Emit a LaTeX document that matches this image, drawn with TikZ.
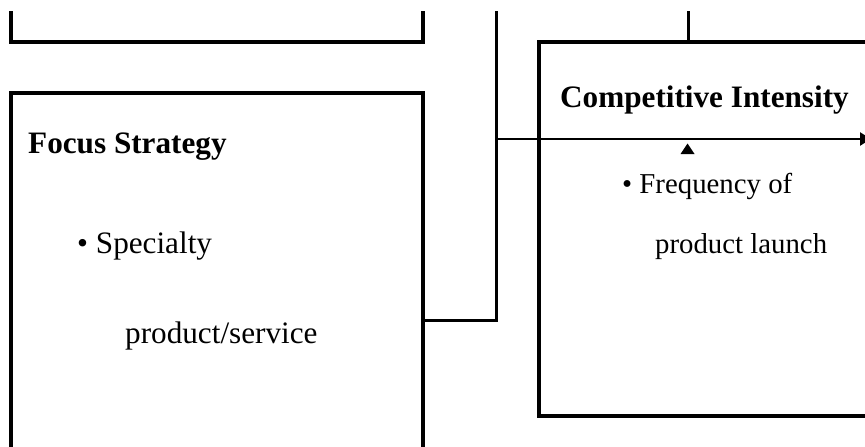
\documentclass[tikz,border=0pt]{standalone}
\usepackage{fontspec}
\setmainfont{Liberation Serif}
\usetikzlibrary{arrows.meta}
\tikzset{
  boxline/.style={draw=black, line width=3.2pt},
  conn/.style={draw=black, line width=3pt},
  arrline/.style={draw=black, line width=2.4pt},
  titletext/.style={anchor=base west, inner sep=0pt, font=\fontsize{31.2}{37}\selectfont\bfseries},
  bodytext/.style={anchor=base west, inner sep=0pt, font=\fontsize{31.2}{36}\selectfont},
  bodytextr/.style={anchor=base west, inner sep=0pt, font=\fontsize{28.8}{35}\selectfont},
  panel/.style={boxline, rectangle, inner sep=0pt, outer sep=0pt, anchor=north west}
}
\begin{document}
\begin{tikzpicture}[x=1pt,y=-1pt]
\useasboundingbox (0,0) rectangle (865,447);
\fill[white] (0,0) rectangle (865,447);
\begin{scope}
\clip (0,0) rectangle (865,447);
% boxes
\node[panel, minimum width=412pt, minimum height=380pt] (focus) at (11,93) {};
\node[panel, minimum width=360pt, minimum height=374pt] (comp) at (539,42) {};
% top-left partial box
\coordinate (tl1) at (11,11);
\coordinate (tl2) at (423,11);
\draw[boxline] (tl1) -- (11,42) -- (423,42) -- (tl2);
% connectors
\coordinate (topA) at (496,11);
\coordinate (topB) at (688,11);
\coordinate (join) at (496,139);
\coordinate (arrEnd) at (871,139);
\draw[conn] (focus.east |- 0,320) -- (496,320) -- (topA);
\draw[conn] (topB) -- (comp.north -| topB);
\draw[arrline, -{Triangle[length=11pt,width=13pt]}] (join) -- (arrEnd);
\fill (680.5,154) -- (687.5,143.5) -- (694.5,154) -- cycle;
\end{scope}
% texts
\node[titletext] (t1) at (28,153) {Focus Strategy};
\node[bodytext] (t2) at (77,253) {• Specialty};
\node[bodytext] (t3) at (125,343) {product/service};
\node[titletext] (t4) at (560,107) {Competitive Intensity};
\node[bodytextr] (t5) at (622,193) {• Frequency of};
\node[bodytextr] (t6) at (655,253) {product launch};
\end{tikzpicture}
\end{document}
